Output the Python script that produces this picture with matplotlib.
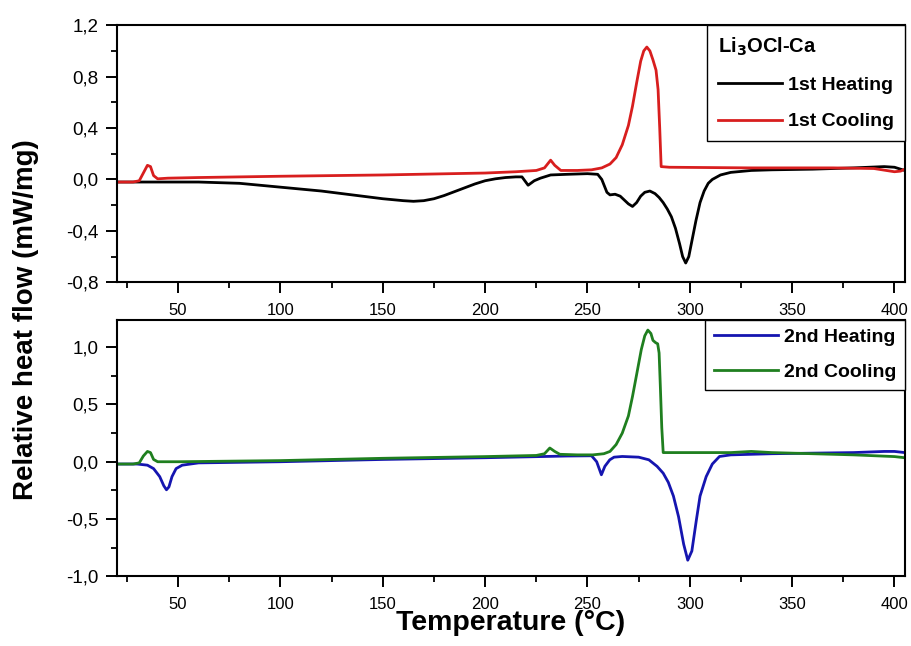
import numpy as np
import matplotlib
matplotlib.use('Agg')
from matplotlib import pyplot as plt
from matplotlib.ticker import MultipleLocator, FuncFormatter

# 1st run (top panel)
t_heat1 = [20, 30, 40, 50, 60, 70, 80, 90, 100, 110, 120, 130, 140, 150, 160, 165, 170, 175,
           180, 185, 190, 195, 200, 205, 210, 215, 218, 221, 224, 227, 232, 240, 250, 255, 257,
           259.5, 261, 263.5, 266, 268, 270, 272, 274, 276, 278, 280.5, 283, 285, 287, 289, 291,
           293, 295, 296.5, 298, 299.5, 301, 303, 305, 307, 309, 311, 315, 320, 330, 340, 360,
           380, 395, 400, 405]
v_heat1 = [-0.02, -0.02, -0.02, -0.02, -0.02, -0.025, -0.03, -0.045, -0.06, -0.075, -0.09, -0.11,
           -0.13, -0.15, -0.165, -0.17, -0.165, -0.15, -0.125, -0.095, -0.065, -0.035, -0.01, 0.005,
           0.015, 0.02, 0.02, -0.045, -0.01, 0.01, 0.035, 0.04, 0.045, 0.04, 0.0, -0.1, -0.12,
           -0.115, -0.13, -0.16, -0.19, -0.21, -0.18, -0.13, -0.1, -0.09, -0.11, -0.14, -0.18,
           -0.23, -0.29, -0.38, -0.5, -0.6, -0.65, -0.6, -0.48, -0.32, -0.18, -0.09, -0.03, 0.0,
           0.035, 0.055, 0.07, 0.075, 0.08, 0.09, 0.1, 0.095, 0.07]

t_cool1 = [20, 28, 31, 33, 35, 36.5, 38, 40, 45, 60, 100, 150, 200, 215, 225, 229, 232, 234, 237,
           245, 252, 257, 261, 264, 267, 270, 272, 274, 276, 277.5, 279, 280.5, 282, 283.5, 284.5,
           285.3, 286, 290, 330, 370, 390, 396, 400, 403, 405]
v_cool1 = [-0.02, -0.02, -0.01, 0.05, 0.11, 0.1, 0.03, 0.005, 0.01, 0.015, 0.025, 0.035, 0.05,
           0.06, 0.07, 0.09, 0.15, 0.11, 0.07, 0.07, 0.075, 0.09, 0.12, 0.17, 0.27, 0.42, 0.57,
           0.75, 0.92, 1.0, 1.03, 1.0, 0.93, 0.85, 0.7, 0.4, 0.1, 0.095, 0.09, 0.09, 0.085, 0.07,
           0.06, 0.065, 0.08]

# 2nd run (bottom panel)
t_heat2 = [20, 30, 35, 38, 41, 43, 44.3, 45.5, 47, 49, 52, 60, 100, 150, 200, 240, 252, 254.5,
           256.8, 258.5, 260.9, 263, 267, 275, 280, 284, 287, 289.5, 292, 294.5, 297, 299, 301,
           303.2, 305, 308, 311, 314.5, 320, 340, 360, 380, 395, 400, 405]
v_heat2 = [-0.02, -0.02, -0.03, -0.06, -0.13, -0.21, -0.245, -0.22, -0.13, -0.06, -0.03, -0.01,
           0.0, 0.02, 0.035, 0.05, 0.052, 0.0, -0.114, -0.04, 0.017, 0.04, 0.046, 0.04, 0.017,
           -0.04, -0.1, -0.18, -0.3, -0.48, -0.72, -0.86, -0.78, -0.51, -0.3, -0.13, -0.02, 0.046,
           0.06, 0.07, 0.075, 0.08, 0.09, 0.09, 0.08]

t_cool2 = [20, 28, 31, 33, 35, 36.5, 38, 40, 50, 100, 150, 200, 225, 229, 231.6, 234, 236.5, 245,
           252.6, 258, 261, 264, 267, 270, 272, 274, 276.3, 278, 279.5, 281, 282, 283.3, 284.3,
           285, 285.6, 286.3, 287, 290, 320, 330, 340, 360, 380, 400, 405]
v_cool2 = [-0.02, -0.02, -0.01, 0.05, 0.09, 0.08, 0.02, 0.0, 0.0, 0.01, 0.03, 0.045, 0.055, 0.07,
           0.12, 0.09, 0.065, 0.06, 0.06, 0.07, 0.09, 0.15, 0.25, 0.4, 0.57, 0.76, 0.98, 1.1, 1.15,
           1.12, 1.06, 1.04, 1.03, 0.95, 0.66, 0.3, 0.08, 0.08, 0.08, 0.09, 0.08, 0.07, 0.06,
           0.045, 0.035]

plt.rcParams['font.family'] = ['Liberation Sans', 'DejaVu Sans']

comma = FuncFormatter(lambda v, p: f'{v:.1f}'.replace('.', ','))

fig = plt.figure(figsize=(9.12, 6.46), dpi=100)
ax1 = fig.add_axes([0.128, 0.563, 0.864, 0.398])
ax2 = fig.add_axes([0.128, 0.108, 0.864, 0.397])

ax1.plot(t_heat1, v_heat1, color='black', lw=2, label='1st Heating')
ax1.plot(t_cool1, v_cool1, color='#d81e1e', lw=2, label='1st Cooling')
ax2.plot(t_heat2, v_heat2, color='#1515b0', lw=2, label='2nd Heating')
ax2.plot(t_cool2, v_cool2, color='#1f7f1f', lw=2, label='2nd Cooling')

ax1.set_ylim(-0.8, 1.2)
ax1.yaxis.set_major_locator(MultipleLocator(0.4))
ax1.yaxis.set_minor_locator(MultipleLocator(0.2))
ax2.set_ylim(-1.0, 1.24)
ax2.yaxis.set_major_locator(MultipleLocator(0.5))
ax2.yaxis.set_minor_locator(MultipleLocator(0.25))

for ax in (ax1, ax2):
    ax.set_xlim(20, 405)
    ax.xaxis.set_major_locator(MultipleLocator(50))
    ax.xaxis.set_minor_locator(MultipleLocator(25))
    ax.yaxis.set_major_formatter(comma)
    ax.tick_params(which='major', direction='out', length=8, width=1.4)
    ax.tick_params(which='minor', direction='out', length=4, width=1.3)
    ax.tick_params(axis='x', which='major', labelsize=12, pad=7)
    ax.tick_params(axis='y', which='major', labelsize=13.5, pad=5)
    for s in ax.spines.values():
        s.set_linewidth(1.5)

leg1 = ax1.legend(loc='upper right', borderaxespad=0, fancybox=False, edgecolor='black',
                  framealpha=1, handlelength=3.3, handletextpad=0.3,
                  title='Li$_\\mathbf{3}$OCl-Ca',
                  prop={'weight': 'bold', 'size': 14},
                  title_fontproperties={'weight': 'bold', 'size': 14.5},
                  alignment='left', borderpad=0.55, labelspacing=0.95)
leg1.get_frame().set_linewidth(1.0)
leg2 = ax2.legend(loc='upper right', borderaxespad=0, fancybox=False, edgecolor='black',
                  framealpha=1, handlelength=3.3, handletextpad=0.3,
                  prop={'weight': 'bold', 'size': 14},
                  borderpad=0.45, labelspacing=0.9)
leg2.get_frame().set_linewidth(1.0)

fig.text(0.028, 0.505, 'Relative heat flow (mW/mg)', rotation=90, ha='center', va='center',
         fontsize=20, fontweight='bold')
fig.text(0.56, 0.035, 'Temperature (°C)', ha='center', va='center',
         fontsize=20.5, fontweight='bold')

fig.savefig('out.png', dpi=100)
